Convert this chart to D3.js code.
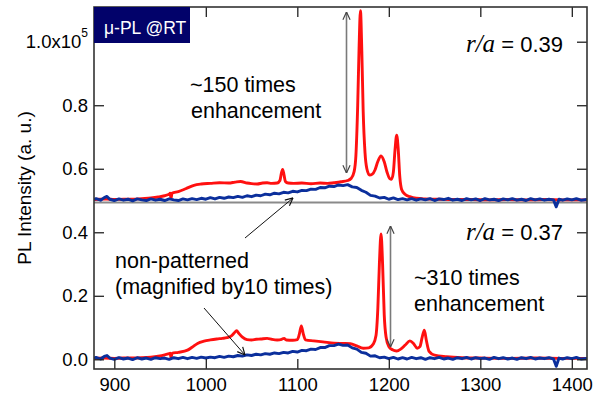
<!DOCTYPE html>
<html><head><meta charset="utf-8">
<script src="https://cdn.jsdelivr.net/npm/d3@7"></script>
<style>body{margin:0;background:#fff}svg{display:block}</style>
</head><body><svg id="c" width="602" height="395"></svg>
<script>
const xTicks=[900,1000,1100,1200,1300,1400];
const yTicks=[0,0.2,0.4,0.6,0.8,1.0];
const separatorValue=0.494;

const redTop=[[877.8,0.503],[885,0.504],[892,0.505],[900,0.503],[910,0.504],[920,0.504],[930,0.506],[940,0.508],[948,0.511],[955,0.515],[960,0.520],[961,0.523],[962,0.507],[963,0.523],[970,0.528],[978,0.537],[987,0.548],[995,0.552],[1005,0.554],[1015,0.556],[1025,0.555],[1032,0.558],[1038,0.560],[1045,0.555],[1050,0.553],[1056,0.552],[1062,0.555],[1067,0.556],[1072,0.554],[1078,0.555],[1081,0.563],[1082.5,0.585],[1084,0.598],[1085.5,0.580],[1087,0.560],[1090,0.555],[1096,0.554],[1105,0.555],[1115,0.553],[1125,0.555],[1133,0.554],[1140,0.556],[1148,0.559],[1155,0.563],[1159,0.570],[1162,0.590],[1164,0.640],[1166,0.800],[1167.5,0.980],[1169,1.098],[1170.5,0.970],[1172,0.780],[1174,0.650],[1176,0.600],[1179,0.580],[1182,0.583],[1185,0.597],[1188,0.623],[1191.5,0.640],[1195,0.622],[1198,0.590],[1201,0.569],[1203,0.567],[1205,0.590],[1206.8,0.660],[1208.6,0.706],[1210.2,0.665],[1212,0.575],[1214,0.535],[1218,0.519],[1223,0.512],[1230,0.507],[1240,0.505],[1255,0.504],[1270,0.503],[1290,0.503],[1310,0.502],[1330,0.503],[1350,0.502],[1370,0.503],[1390,0.502],[1416.6,0.502]];

const blueTop=[[877.8,0.503],[880,0.506],[885,0.501],[889,0.509],[892,0.513],[895,0.504],[900,0.500],[905,0.505],[910,0.501],[915,0.504],[920,0.499],[925,0.505],[930,0.502],[935,0.500],[940,0.505],[945,0.501],[950,0.504],[955,0.500],[960,0.505],[965,0.502],[970,0.500],[975,0.505],[980,0.502],[985,0.506],[990,0.503],[995,0.507],[1000,0.504],[1005,0.509],[1010,0.505],[1015,0.510],[1020,0.507],[1025,0.511],[1030,0.509],[1035,0.513],[1040,0.510],[1045,0.515],[1050,0.512],[1055,0.517],[1060,0.515],[1065,0.520],[1070,0.518],[1075,0.523],[1080,0.521],[1085,0.526],[1090,0.524],[1095,0.529],[1100,0.527],[1105,0.532],[1110,0.531],[1115,0.536],[1120,0.535],[1125,0.541],[1130,0.540],[1135,0.545],[1140,0.544],[1145,0.549],[1150,0.547],[1155,0.550],[1160,0.543],[1165,0.541],[1170,0.532],[1175,0.526],[1180,0.516],[1185,0.514],[1190,0.508],[1195,0.510],[1200,0.504],[1205,0.508],[1210,0.503],[1215,0.506],[1220,0.502],[1225,0.506],[1230,0.501],[1235,0.505],[1240,0.502],[1245,0.506],[1250,0.500],[1255,0.505],[1260,0.503],[1265,0.507],[1270,0.501],[1275,0.504],[1280,0.500],[1285,0.506],[1290,0.502],[1295,0.505],[1300,0.500],[1305,0.506],[1310,0.502],[1315,0.504],[1320,0.500],[1325,0.505],[1330,0.502],[1335,0.506],[1340,0.501],[1345,0.504],[1350,0.500],[1355,0.506],[1360,0.502],[1365,0.505],[1370,0.501],[1375,0.504],[1380,0.502],[1383,0.480],[1386,0.504],[1390,0.501],[1395,0.505],[1400,0.502],[1405,0.506],[1410,0.501],[1416.6,0.503]];

const redBottom=[[877.8,0.003],[890,0.004],[900,0.003],[910,0.004],[920,0.004],[930,0.005],[940,0.007],[948,0.010],[955,0.014],[960,0.018],[961,0.019],[962,0.005],[963,0.019],[970,0.022],[980,0.029],[985,0.038],[991,0.050],[998,0.057],[1005,0.061],[1012,0.064],[1018,0.066],[1023,0.068],[1028,0.074],[1031,0.083],[1033.7,0.090],[1036,0.082],[1040,0.070],[1045,0.062],[1050,0.061],[1055,0.063],[1060,0.064],[1067,0.066],[1072,0.063],[1078,0.061],[1083,0.063],[1085.5,0.066],[1088,0.061],[1095,0.060],[1100,0.062],[1102.3,0.080],[1104.4,0.105],[1106.5,0.080],[1109,0.061],[1118,0.058],[1128,0.055],[1140,0.051],[1150,0.050],[1158,0.049],[1165,0.042],[1172,0.035],[1178,0.036],[1183,0.048],[1186,0.075],[1188,0.160],[1189.7,0.300],[1191.5,0.395],[1193.2,0.300],[1195,0.140],[1197,0.070],[1200,0.040],[1204,0.030],[1208.6,0.026],[1213,0.032],[1218,0.045],[1223,0.058],[1227,0.050],[1231,0.035],[1234,0.040],[1236.5,0.070],[1238.8,0.092],[1241,0.060],[1244,0.025],[1250,0.013],[1263,0.008],[1280,0.005],[1300,0.004],[1330,0.003],[1360,0.004],[1390,0.003],[1416.6,0.003]];

const blueBottom=[[877.8,0.003],[880,0.006],[885,0.001],[889,0.009],[892,0.012],[895,0.004],[900,0.000],[905,0.005],[910,0.001],[915,0.004],[920,-0.001],[925,0.005],[930,0.001],[935,0.004],[940,0.000],[945,0.005],[950,0.002],[955,0.004],[960,0.000],[965,0.005],[970,0.002],[975,0.006],[980,0.002],[985,0.006],[990,0.003],[995,0.007],[1000,0.004],[1005,0.007],[1010,0.005],[1015,0.009],[1020,0.006],[1025,0.010],[1030,0.008],[1035,0.012],[1040,0.010],[1045,0.014],[1050,0.012],[1055,0.016],[1060,0.014],[1065,0.018],[1070,0.016],[1075,0.020],[1080,0.018],[1085,0.022],[1090,0.020],[1095,0.025],[1100,0.023],[1105,0.028],[1110,0.027],[1115,0.032],[1120,0.031],[1125,0.037],[1130,0.037],[1135,0.043],[1140,0.043],[1145,0.048],[1150,0.044],[1155,0.045],[1160,0.036],[1165,0.032],[1170,0.022],[1175,0.019],[1180,0.010],[1185,0.011],[1190,0.005],[1195,0.007],[1200,0.002],[1205,0.006],[1210,0.001],[1215,0.005],[1220,0.001],[1225,0.006],[1230,0.002],[1235,0.005],[1240,0.000],[1245,0.005],[1250,0.002],[1255,0.006],[1260,0.001],[1265,0.004],[1270,0.000],[1275,0.005],[1280,0.002],[1285,0.006],[1290,0.001],[1295,0.005],[1300,0.002],[1305,0.004],[1310,0.000],[1315,0.006],[1320,0.002],[1325,0.005],[1330,0.001],[1335,0.004],[1340,0.000],[1345,0.005],[1350,0.002],[1355,0.006],[1360,0.001],[1365,0.004],[1370,0.002],[1375,0.005],[1380,0.001],[1383,-0.022],[1386,0.004],[1390,0.001],[1395,0.005],[1400,0.002],[1405,0.006],[1410,0.001],[1416.6,0.003]];

const L=94,R=587,T=7,B=369;
const svg=d3.select("#c");
const x=d3.scaleLinear().domain([877.8,1416.6]).range([L,R]);
const y=d3.scaleLinear().domain([-0.0305,1.1093]).range([B,T]);
const sans="'Liberation Sans', Arial, sans-serif";

const defs=svg.append("defs");
function mk(id,color){
  defs.append("marker").attr("id",id).attr("viewBox","0 0 10 10").attr("refX",9.5).attr("refY",5)
   .attr("markerWidth",9).attr("markerHeight",9).attr("markerUnits","userSpaceOnUse").attr("orient","auto-start-reverse")
   .append("path").attr("d","M1,1 L9.5,5 L1,9").attr("fill","none").attr("stroke",color).attr("stroke-width",1.3);
}
mk("hk","#111"); mk("hg","#444");

const clip=defs.append("clipPath").attr("id","pc");
clip.append("rect").attr("x",L).attr("y",T).attr("width",R-L).attr("height",B-T);

// separator
svg.append("line").attr("x1",L).attr("x2",R).attr("y1",y(separatorValue)).attr("y2",y(separatorValue))
  .attr("stroke","#8a8a8a").attr("stroke-width",2);

const redLine=d3.line().x(d=>x(d[0])).y(d=>y(d[1])).curve(d3.curveMonotoneX);
const blueLine=d3.line().x(d=>x(d[0])).y(d=>y(d[1]));
const g=svg.append("g").attr("clip-path","url(#pc)");
[[redTop,"#ff1010",redLine],[redBottom,"#ff1010",redLine],[blueTop,"#0b2f9c",blueLine],[blueBottom,"#0b2f9c",blueLine]].forEach(([d,c,ln])=>{
  g.append("path").datum(d).attr("d",ln).attr("fill","none").attr("stroke",c).attr("stroke-width",2.9).attr("stroke-linejoin","round");
});

// axes
const fmt=d=>d===1?"1.0x10":d.toFixed(1);
const ax=svg.append("g").attr("transform",`translate(0,${B})`).call(d3.axisBottom(x).tickValues(xTicks).tickSize(-10).tickPadding(9).tickFormat(d3.format("d")));
const axT=svg.append("g").attr("transform",`translate(0,${T})`).call(d3.axisTop(x).tickValues(xTicks).tickSize(-10).tickFormat(""));
const ay=svg.append("g").attr("transform",`translate(${L},0)`).call(d3.axisLeft(y).tickValues(yTicks).tickSize(-10).tickPadding(6).tickFormat(fmt));
const ayR=svg.append("g").attr("transform",`translate(${R},0)`).call(d3.axisRight(y).tickValues(yTicks).tickSize(-10).tickFormat(""));
[ax,axT,ay,ayR].forEach(a=>{a.select(".domain").remove();a.selectAll("line").attr("stroke","#222").attr("stroke-width",1.3);
  a.selectAll("text").attr("font-family",sans).attr("font-size",18.5).attr("fill","#000");});
ay.selectAll(".tick text").filter(d=>d===1).append("tspan").attr("dy","-11").attr("font-size",12).text("5");

svg.append("rect").attr("x",L).attr("y",T).attr("width",R-L).attr("height",B-T).attr("fill","none").attr("stroke","#333").attr("stroke-width",1.6);

// y label
svg.append("text").attr("transform","translate(31,188) rotate(-90)").attr("text-anchor","middle")
  .attr("font-family",sans).attr("font-size",19).text("PL Intensity (a. u.)");

// label box
svg.append("rect").attr("x",L).attr("y",T).attr("width",96).attr("height",36).attr("fill","#02026a");
svg.append("text").attr("x",104).attr("y",34).attr("font-family",sans).attr("font-size",17.5).attr("fill","#fff").text("μ-PL @RT");

function txt(xp,yp,s,anchor){return svg.append("text").attr("x",xp).attr("y",yp).attr("font-family",sans).attr("font-size",21.5).attr("text-anchor",anchor||"start").text(s);}
txt(190,92,"~150 times"); txt(191,118,"enhancement");
txt(414,285,"~310 times"); txt(414,311,"enhancement");
txt(115,268,"non-patterned"); txt(115,294,"(magnified by10 times)");

function ra(yp,val){
  const t=svg.append("text").attr("x",563).attr("y",yp).attr("text-anchor","end").attr("font-family",sans).attr("font-size",22);
  t.append("tspan").attr("font-family","'Liberation Serif','Times New Roman',serif").attr("font-style","italic").attr("font-size",25).text("r/a");
  t.append("tspan").text(" = "+val);
}
ra(52,"0.39"); ra(240,"0.37");

// arrows
function arr(x1,y1,x2,y2,color,w,mid,both){
  const l=svg.append("line").attr("x1",x1).attr("y1",y1).attr("x2",x2).attr("y2",y2).attr("stroke",color).attr("stroke-width",w).attr("marker-end",`url(#${mid})`);
  if(both) l.attr("marker-start",`url(#${mid})`);
}
arr(346.5,12,346.5,173,"#7a7a7a",1.6,"hg",true);
arr(390.5,226,390.5,347,"#7a7a7a",1.6,"hg",true);
arr(245,238,293,198,"#111",1,"hk",false);
arr(204,308,245,355,"#111",1,"hk",false);
</script></body></html>
